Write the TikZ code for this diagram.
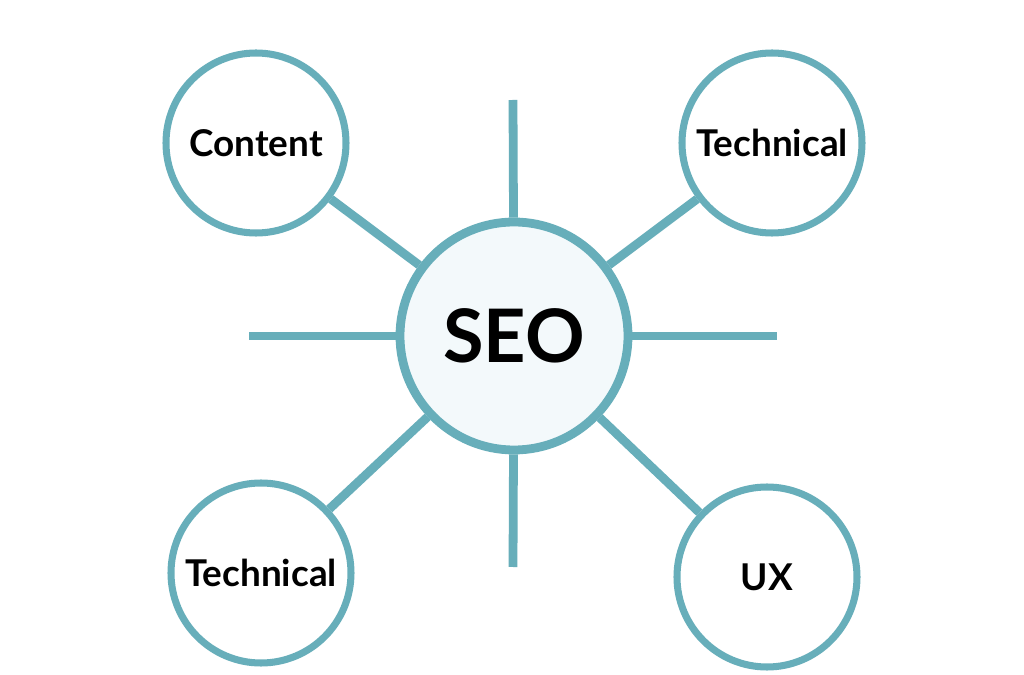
\documentclass[tikz,border=0pt]{standalone}
\usepackage{fontspec}
\setmainfont{Lato}
\usepackage{tikz}
\definecolor{seoteal}{HTML}{67AEBA}
\definecolor{seofill}{HTML}{F3F9FB}
\tikzset{
	hubstyle/.style={circle,draw=seoteal,line width=5pt,fill=seofill,minimum size=4.56cm,inner sep=0pt,font=\fontsize{42}{44}\selectfont\bfseries},
	topicstyle/.style={circle,draw=seoteal,line width=4pt,fill=white,minimum size=3.6cm,inner sep=0pt,font=\fontsize{21}{24}\selectfont\bfseries},
	spokestyle/.style={draw=seoteal,line width=5pt}
}

\begin{document}
\begin{tikzpicture}
	\useasboundingbox[fill=white] (0,0) rectangle (20.48,13.5);
	\node[hubstyle] (seo) at (10.28,6.78) {SEO};
	\node[topicstyle] (content) at (5.12,10.64) {Content};
	\node[topicstyle] (tech1) at (15.44,10.64) {Technical};
	\node[topicstyle] (tech2) at (5.22,2.04) {Technical};
	\node[topicstyle] (ux) at (15.34,1.96) {UX};
	\coordinate (up) at (10.26,11.5);
	\coordinate (down) at (10.26,2.16);
	\coordinate (left) at (4.98,6.78);
	\coordinate (right) at (15.54,6.78);
	\draw[spokestyle] (seo)--(content);
	\draw[spokestyle] (seo)--(tech1);
	\draw[spokestyle] (seo)--(tech2);
	\draw[spokestyle] (seo)--(ux);
	\draw[spokestyle] (seo)--(up);
	\draw[spokestyle] (seo)--(down);
	\draw[spokestyle] (seo)--(left);
	\draw[spokestyle] (seo)--(right);
\end{tikzpicture}
\end{document}
